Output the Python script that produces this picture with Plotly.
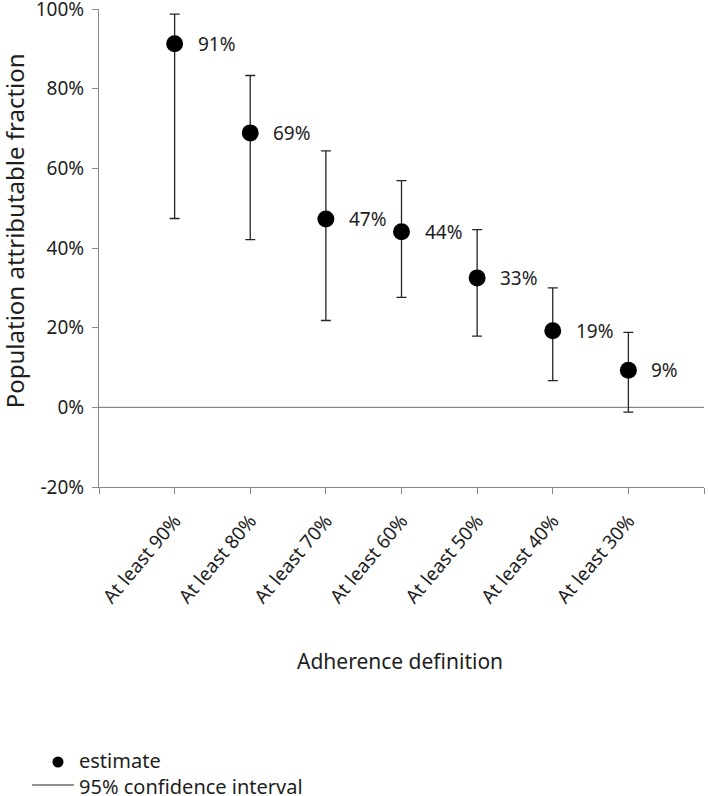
import plotly.graph_objects as go

categories = ["At least 90%", "At least 80%", "At least 70%", "At least 60%",
              "At least 50%", "At least 40%", "At least 30%"]
estimate = [91.3, 68.9, 47.3, 44.1, 32.5, 19.2, 9.3]
ci_upper = [98.7, 83.3, 64.4, 56.9, 44.6, 30.0, 18.8]
ci_lower = [47.4, 42.1, 21.8, 27.6, 17.9, 6.7, -1.2]
labels = ["91%", "69%", "47%", "44%", "33%", "19%", "9%"]
x_pos = [1, 2, 3, 4, 5, 6, 7]
y_ticks = [-20, 0, 20, 40, 60, 80, 100]
y_ticklabels = ["-20%", "0%", "20%", "40%", "60%", "80%", "100%"]
legend_names = ["estimate", "95% confidence interval"]

FONT = "Noto Sans"
TXT = "#1e1e1e"
AX = "#878787"

fig = go.Figure()
fig.add_trace(go.Scatter(
    x=x_pos, y=estimate, mode="markers", showlegend=False,
    marker=dict(size=17, color="black"),
    error_y=dict(type="data", symmetric=False,
                 array=[u - e for u, e in zip(ci_upper, estimate)],
                 arrayminus=[e - l for e, l in zip(estimate, ci_lower)],
                 color="#262626", thickness=1.3, width=5),
))

for xv, yv, t in zip(x_pos, estimate, labels):
    fig.add_annotation(x=xv, y=yv, text=t, showarrow=False, xanchor="left",
                       yanchor="middle", xshift=21, font=dict(size=19, color=TXT, family=FONT))

# axis titles
fig.add_annotation(xref="paper", yref="paper", x=-0.1405, y=0.537, text="Population attributable fraction",
                   textangle=-90, showarrow=False, xanchor="center", yanchor="middle",
                   font=dict(size=24, color=TXT, family=FONT))
fig.add_annotation(xref="paper", yref="paper", x=0.4975, y=-0.364, text="Adherence definition",
                   showarrow=False, xanchor="center", yanchor="middle",
                   font=dict(size=21, color=TXT, family=FONT))

# manual legend
fig.add_annotation(xref="paper", yref="paper", x=-0.0364, y=-0.5994,
                   text="<br>".join(legend_names), align="left",
                   showarrow=False, xanchor="left", yanchor="middle",
                   font=dict(size=20, color=TXT, family=FONT))

fig.update_layout(
    width=709, height=796,
    margin=dict(l=99, r=5, t=9, b=309),
    paper_bgcolor="white", plot_bgcolor="white",
    font=dict(family=FONT, color=TXT, size=19),
    showlegend=False,
    shapes=[
        dict(type="line", xref="paper", x0=0, x1=1, yref="y", y0=0, y1=0,
             line=dict(color=AX, width=1.3), layer="below"),
        dict(type="circle", xref="paper", yref="paper", xsizemode="pixel", ysizemode="pixel",
             xanchor=-0.0678, yanchor=-0.5753, x0=-5.5, x1=5.5, y0=-5.5, y1=5.5,
             fillcolor="black", line=dict(width=0)),
        dict(type="line", xref="paper", yref="paper", x0=-0.1107, x1=-0.0413, y0=-0.6234, y1=-0.6234,
             line=dict(color="#262626", width=1.2)),
    ],
)
fig.update_xaxes(
    range=[0, 8], tickmode="array", tickvals=x_pos, ticktext=categories,
    tickangle=-50, showline=True, linecolor=AX, linewidth=1.3,
    ticks="outside", ticklen=6, tickcolor=AX, showgrid=False, zeroline=False,
    minor=dict(ticks="outside", tickvals=[0, 8], ticklen=6, tickcolor=AX, showgrid=False),
    tickfont=dict(size=19, color=TXT), automargin=False, ticklabelstandoff=8,
)
fig.update_yaxes(
    range=[-20, 100], tickmode="array", tickvals=y_ticks, ticktext=y_ticklabels,
    showline=True, linecolor=AX, linewidth=1.3, ticks="outside", ticklen=6,
    tickcolor=AX, showgrid=False, zeroline=False, ticklabeloverflow="allow",
    tickfont=dict(size=19, color=TXT), automargin=False, ticklabelstandoff=4,
)

fig.write_html("out.html", config={"displayModeBar": False},
               post_script="document.body.style.margin='0px';")
